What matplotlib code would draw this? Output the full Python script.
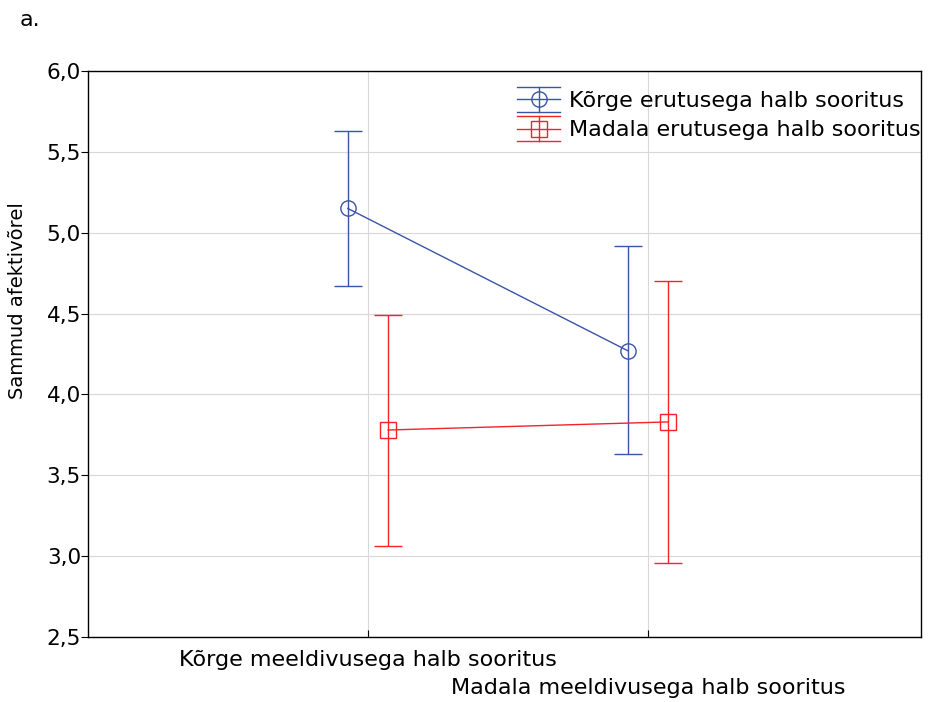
import numpy as np
import matplotlib
matplotlib.use("Agg")
import matplotlib.pyplot as plt
import matplotlib.transforms as mtransforms
from matplotlib.lines import Line2D
from matplotlib.legend_handler import HandlerBase
from matplotlib.ticker import FuncFormatter

plt.rcParams["font.family"] = ["DejaVu Sans"]

categories = ["Kõrge meeldivusega halb sooritus", "Madala meeldivusega halb sooritus"]
series_names = ["Kõrge erutusega halb sooritus", "Madala erutusega halb sooritus"]
high_mean = [5.15, 4.27]
high_upper = [5.63, 4.92]
high_lower = [4.67, 3.63]
low_mean = [3.78, 3.83]
low_upper = [4.49, 4.70]
low_lower = [3.06, 2.96]

BLUE = "#3a54a8"
RED = "#f5222a"


class ErrorCapHandler(HandlerBase):
    """Legend key in the Statistica style: line, marker, error bar with full-width caps."""

    def create_artists(self, legend, orig_handle, xdescent, ydescent,
                       width, height, fontsize, trans):
        color, marker = orig_handle
        x0, x1 = -xdescent, -xdescent + width
        xc = (x0 + x1) / 2
        yc = -ydescent + height / 2
        cap = 9.0
        arts = [
            Line2D([x0, x1], [yc, yc], color=color, lw=1.0),
            Line2D([x0, x1], [yc + cap, yc + cap], color=color, lw=1.0),
            Line2D([x0, x1], [yc - cap, yc - cap], color=color, lw=1.0),
            Line2D([xc, xc], [yc - cap, yc + cap], color=color, lw=1.0),
            Line2D([xc], [yc], marker=marker, markersize=11, markerfacecolor="none",
                   markeredgecolor=color, markeredgewidth=1.0, linestyle="none"),
        ]
        for a in arts:
            a.set_transform(trans)
        return arts


fig = plt.figure(figsize=(9.29, 7.02), dpi=100)
ax = fig.add_axes([88 / 929, 1 - 637 / 702, 833 / 929, 566 / 702])

x = np.arange(1, len(categories) + 1)
offset = 0.072

for means, up, lo, color, marker, dx in [
    (high_mean, high_upper, high_lower, BLUE, "o", -offset),
    (low_mean, low_upper, low_lower, RED, "s", offset),
]:
    means = np.array(means)
    yerr = [means - np.array(lo), np.array(up) - means]
    ax.errorbar(x + dx, means, yerr=yerr, color=color, marker=marker,
                markersize=11, markerfacecolor="none", markeredgecolor=color,
                markeredgewidth=1.0, linewidth=1.0, elinewidth=1.0,
                capsize=10, capthick=1.0, zorder=3)

ax.set_xlim(0, 2.975)
ax.set_ylim(2.5, 6.0)
ax.set_yticks(np.arange(2.5, 6.01, 0.5))
ax.yaxis.set_major_formatter(FuncFormatter(lambda v, p: f"{v:.1f}".replace(".", ",")))
ax.set_xticks(x)
ax.set_xticklabels([])
ax.grid(True, color="#d8d8d8", linewidth=0.8, zorder=0)
ax.set_axisbelow(True)
for s in ax.spines.values():
    s.set_linewidth(1.0)
    s.set_color("black")
ax.tick_params(axis="y", direction="out", length=5, labelsize=15.5, pad=0)
ax.tick_params(axis="x", direction="in", length=5)

# staggered category labels, as in the original
blend = mtransforms.blended_transform_factory(ax.transData, fig.transFigure)
for xi, label, ypos in zip(x, categories, [660, 688]):
    ax.text(xi, 1 - ypos / 702, label, transform=blend,
            ha="center", va="center", fontsize=16)

fig.text(18 / 929, 1 - 301 / 702, "Sammud afektivõrel", rotation=90,
         ha="center", va="center", fontsize=14)
fig.text(20 / 929, 1 - 20 / 702, "a.", ha="left", va="center", fontsize=16)

leg = ax.legend([(BLUE, "o"), (RED, "s")], series_names,
                handler_map={tuple: ErrorCapHandler()},
                loc="upper left", bbox_to_anchor=(517 / 929, 1 - 91 / 702),
                bbox_transform=fig.transFigure, frameon=False,
                fontsize=16, handlelength=1.95, handletextpad=0.4,
                labelspacing=0.42, borderpad=0, borderaxespad=0)

fig.savefig("out.png", dpi=100)
